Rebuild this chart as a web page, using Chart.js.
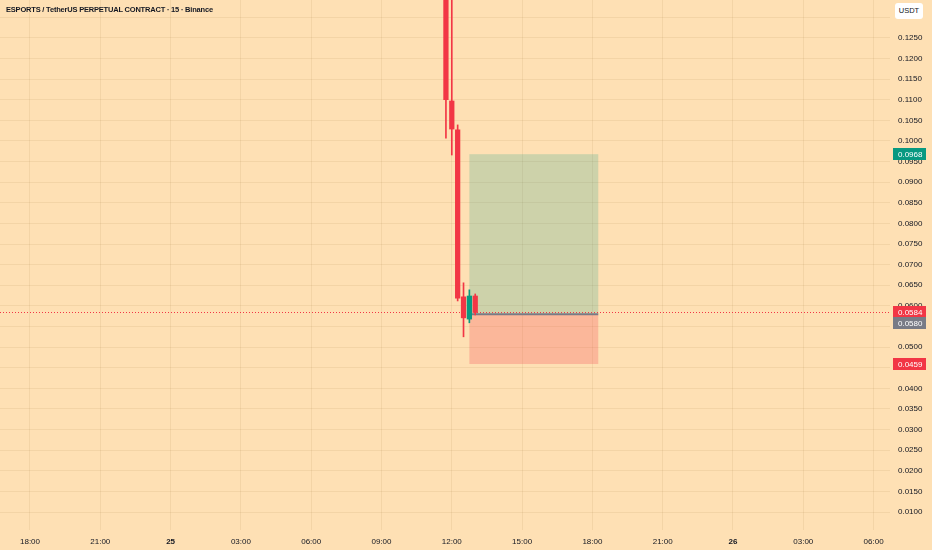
<!DOCTYPE html>
<html>
<head>
<meta charset="utf-8">
<script src="https://cdn.jsdelivr.net/npm/chart.js@4.4.1/dist/chart.umd.min.js"></script>
<style>
  html, body { margin: 0; padding: 0; background: #fee0b4; }
  #wrap { position: relative; width: 932px; height: 550px; }
  #title {
    position: absolute; left: 6px; top: 5px;
    font: bold 7.5px 'Liberation Sans', sans-serif;
    letter-spacing: -0.2px;
    color: #131722; white-space: nowrap;
  }
  #unit {
    position: absolute; left: 895px; top: 3px; width: 28px; height: 16px;
    background: #ffffff; border-radius: 3px; text-align: center;
    font: 7.5px 'Liberation Sans', sans-serif;
    line-height: 16px; color: #131722;
  }
</style>
</head>
<body>
<div id="wrap">
  <canvas id="chart"></canvas>
  <div id="title">ESPORTS / TetherUS PERPETUAL CONTRACT · 15 · Binance</div>
  <div id="unit">USDT</div>
</div>
<script>
var FONT = "'Liberation Sans', sans-serif";

// candle times in hours counted from the 24th 00:00 (35.75 = 11:45 on the 25th)
var times  = [35.75, 36, 36.25, 36.5, 36.75, 37];
var opens  = [0.1480, 0.1097, 0.1027, 0.0622, 0.0568, 0.0624];
var highs  = [0.1500, 0.1420, 0.1039, 0.0656, 0.0639, 0.0629];
var lows   = [0.1007, 0.0966, 0.0612, 0.0525, 0.0559, 0.0578];
var closes = [0.1100, 0.1029, 0.0619, 0.0571, 0.0624, 0.0584];

var xTickHours  = [18, 21, 24, 27, 30, 33, 36, 39, 42, 45, 48, 51, 54];
var xTickLabels = ['18:00', '21:00', '25', '03:00', '06:00', '09:00', '12:00',
                   '15:00', '18:00', '21:00', '26', '03:00', '06:00'];

var lastPrice   = 0.0584;
var entryPrice  = 0.0580;
var targetPrice = 0.0968;
var stopPrice   = 0.0459;
var positionFrom = 36.75;
var positionTo   = 42.25;

var UP = '#089981', DOWN = '#f23645';

var candleColors = closes.map(function(c, i) {
  return c >= opens[i] ? UP : DOWN;
});

var wickData = times.map(function(t, i) {
  return { x: t, y: [lows[i], highs[i]] };
});
var bodyData = times.map(function(t, i) {
  return { x: t, y: [opens[i], closes[i]] };
});

var positionTool = {
  id: 'positionTool',
  beforeDatasetsDraw: function(chart) {
    var ctx = chart.ctx, xs = chart.scales.x, ys = chart.scales.y, area = chart.chartArea;
    var left = xs.getPixelForValue(positionFrom);
    var right = xs.getPixelForValue(positionTo);
    var yEntry = ys.getPixelForValue(entryPrice);
    var yTarget = ys.getPixelForValue(targetPrice);
    var yStop = ys.getPixelForValue(stopPrice);
    var yLast = ys.getPixelForValue(lastPrice);

    ctx.save();
    ctx.beginPath();
    ctx.rect(area.left, area.top, area.width, area.height);
    ctx.clip();

    ctx.fillStyle = 'rgba(8,153,129,0.2)';
    ctx.fillRect(left, yTarget, right - left, yEntry - yTarget);
    ctx.fillStyle = 'rgba(242,54,69,0.24)';
    ctx.fillRect(left, yEntry, right - left, yStop - yEntry);

    ctx.strokeStyle = '#787b86';
    ctx.lineWidth = 2;
    ctx.beginPath();
    ctx.moveTo(left, yEntry);
    ctx.lineTo(right, yEntry);
    ctx.stroke();

    // last price line
    ctx.strokeStyle = DOWN;
    ctx.lineWidth = 1;
    ctx.setLineDash([1, 2]);
    ctx.beginPath();
    ctx.moveTo(area.left, Math.round(yLast) + 0.5);
    ctx.lineTo(area.right, Math.round(yLast) + 0.5);
    ctx.stroke();
    ctx.restore();
  },
  afterDraw: function(chart) {
    var ctx = chart.ctx, ys = chart.scales.y, area = chart.chartArea;
    var tags = [
      { v: targetPrice, c: UP },
      { v: lastPrice, c: DOWN },
      { v: entryPrice, c: '#787b86' },
      { v: stopPrice, c: DOWN }
    ];
    tags.forEach(function(t) { t.y = ys.getPixelForValue(t.v); });
    tags.sort(function(a, b) { return a.y - b.y; });
    for (var i = 1; i < tags.length; i++) {
      if (tags[i].y < tags[i - 1].y + 11) tags[i].y = tags[i - 1].y + 11;
    }
    ctx.save();
    ctx.font = '8px ' + FONT;
    ctx.textBaseline = 'middle';
    ctx.textAlign = 'left';
    tags.forEach(function(t) {
      ctx.fillStyle = t.c;
      ctx.fillRect(area.right + 3, Math.round(t.y - 6), 33, 12);
      ctx.fillStyle = '#ffffff';
      ctx.fillText(t.v.toFixed(4), area.right + 8, t.y + 0.5);
    });
    ctx.restore();
  }
};

new Chart('chart', {
  type: 'bar',
  data: {
    datasets: [
      {
        label: 'body',
        data: bodyData,
        backgroundColor: candleColors,
        barThickness: 4.6,
        grouped: false,
        order: 0,
        borderWidth: 0
      },
      {
        label: 'wick',
        data: wickData,
        backgroundColor: candleColors,
        barThickness: 1,
        grouped: false,
        order: 1,
        borderWidth: 0
      }
    ]
  },
  options: {
    responsive: true,
    maintainAspectRatio: false,
    animation: false,
    layout: { padding: 0 },
    plugins: {
      legend: { display: false },
      tooltip: { enabled: false }
    },
    scales: {
      x: {
        type: 'linear',
        min: 16.72,
        max: 54.70,
        offset: false,
        afterFit: function(s) {
          s.height = 20;
          s.paddingLeft = 0;
          s.paddingRight = 0;
        },
        afterBuildTicks: function(s) {
          s.ticks = xTickHours.map(function(h) { return { value: h }; });
        },
        grid: { color: 'rgba(150,105,50,0.10)', drawTicks: false, offset: false },
        border: { display: false },
        ticks: {
          autoSkip: false,
          maxRotation: 0,
          padding: 7,
          color: '#131722',
          font: function(c) {
            var bold = c.tick && c.tick.value % 24 === 0;
            return { family: FONT, size: 8, weight: bold ? 'bold' : 'normal' };
          },
          callback: function(v) {
            var i = xTickHours.indexOf(v);
            return i >= 0 ? xTickLabels[i] : '';
          }
        }
      },
      y: {
        position: 'right',
        min: 0.00564,
        max: 0.1342,
        afterFit: function(s) {
          s.width = 42;
          s.paddingTop = 0;
          s.paddingBottom = 0;
        },
        grid: { color: 'rgba(150,105,50,0.10)', drawTicks: false },
        border: { display: false },
        ticks: {
          stepSize: 0.005,
          includeBounds: false,
          autoSkip: false,
          padding: 8,
          color: '#131722',
          font: { family: FONT, size: 8 },
          // the top label sits under the currency box, so it is left out
          callback: function(v) { return v > 0.128 ? '' : v.toFixed(4); }
        }
      }
    }
  },
  plugins: [positionTool]
});
</script>
</body>
</html>
